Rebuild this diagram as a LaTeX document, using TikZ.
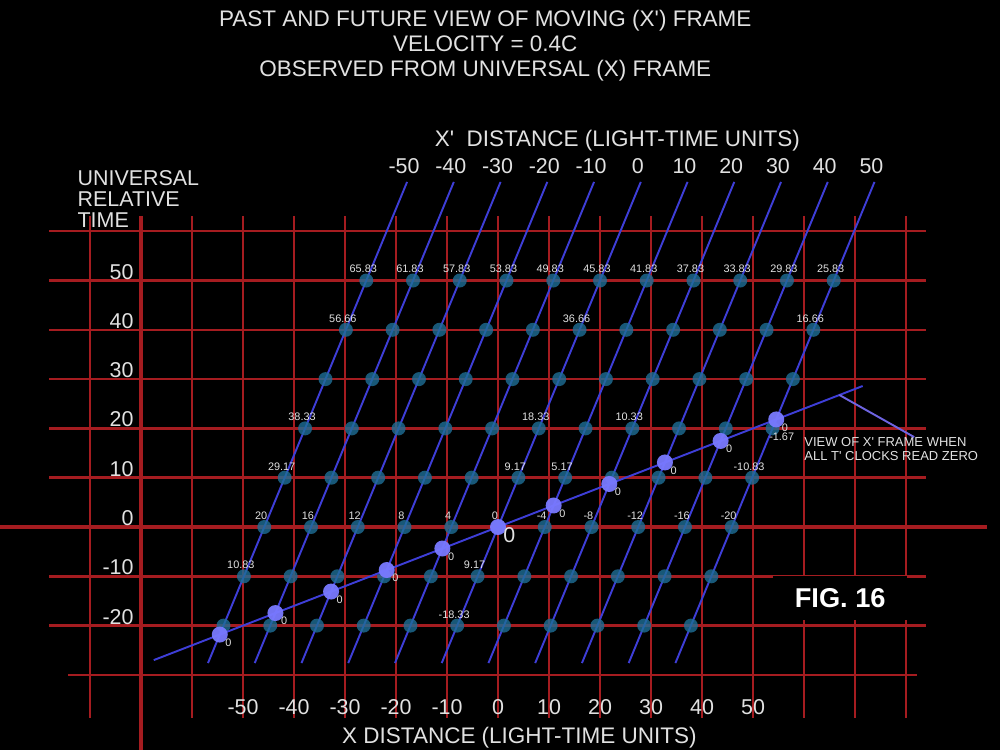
\documentclass[tikz,border=0pt]{standalone}
\usepackage{fontspec}
\setmainfont{Liberation Sans}
\usetikzlibrary{calc}

\definecolor{gridred}{RGB}{165,28,32}
\definecolor{lineblue}{RGB}{62,62,215}
\definecolor{dotteal}{RGB}{30,110,150}
\definecolor{bigdot}{RGB}{122,122,255}
\definecolor{txtgray}{RGB}{225,225,225}
\definecolor{ptrviolet}{RGB}{110,100,225}

% lorentz factor for v = 0.4c
\newcommand{\gam}{1.0911}
\newcommand{\sq}{\textquotesingle}

\begin{document}
\begin{tikzpicture}[x=0.102cm,y=0.0986cm,every node/.style={text=txtgray,inner sep=0pt}]

\tikzstyle{gridline}=[gridred,line width=1.4pt]
\tikzstyle{mainaxis}=[gridred,line width=2.4pt]
\tikzstyle{world}=[lineblue,line width=1.1pt]
\tikzstyle{clock}=[circle,fill=dotteal,fill opacity=0.8,minimum size=0.28cm]
\tikzstyle{nowdot}=[circle,fill=bigdot,fill opacity=0.95,minimum size=0.32cm]
\tikzstyle{reading}=[font=\fontsize{6.2}{7}\selectfont]
\tikzstyle{axisnum}=[font=\fontsize{12.2}{14}\selectfont]
\tikzstyle{heading}=[font=\fontsize{12.8}{14.4}\selectfont]

\fill[black] (-97.65,-45.23) rectangle (98.43,106.9);
\useasboundingbox (-97.65,-45.23) rectangle (98.43,106.9);

% universal grid
\foreach \v in {-80,-70,...,80}
    \draw[gridline] (\v,63.1) -- (\v,-38.7);
\foreach \v in {-20,-10,...,60}
    \draw[gridline] (-88,\v) -- (83.9,\v);
\draw[gridline] (-84.3,-30) -- (82.2,-30);
\draw[mainaxis] (-70,63.1) -- (-70,-45.3);
\draw[mainaxis] (-97.7,0) -- (95.9,0);

% world lines of the moving frame
\foreach \k in {0,...,10} {
    \pgfmathtruncatemacro{\xp}{10*\k-50}
    \coordinate (top\k) at ({28+\xp/\gam},70);
    \coordinate (bot\k) at ({-11.04+\xp/\gam},-27.6);
    \draw[world] (bot\k) -- (top\k);
    \node[axisnum] (xp\k) at ($(top\k)+(-0.6,3.2)$) {\xp};
}

% clocks
\foreach \k in {0,...,10} {
    \foreach \j in {0,...,7} {
        \pgfmathsetmacro{\tv}{10*\j-20}
        \pgfmathsetmacro{\xv}{0.4*\tv+(10*\k-50)/\gam}
        \node[clock] (p\k t\j) at (\xv,\tv) {};
    }
}

\foreach \k/\j/\lab in {0/7/65.83,1/7/61.83,2/7/57.83,3/7/53.83,4/7/49.83,5/7/45.83,
    6/7/41.83,7/7/37.83,8/7/33.83,9/7/29.83,10/7/25.83,
    0/6/56.66,5/6/36.66,10/6/16.66,
    0/4/38.33,5/4/18.33,7/4/10.33,
    0/3/29.17,5/3/9.17,6/3/5.17,10/3/-10.83,
    0/2/20,1/2/16,2/2/12,3/2/8,4/2/4,5/2/0,6/2/-4,7/2/-8,8/2/-12,9/2/-16,10/2/-20,
    0/1/10.83,5/1/9.17,
    5/0/-18.33}
    \node[reading] (r\k t\j) at ($(p\k t\j)+(-0.6,2.3)$) {\lab};
\node[reading] (r10t4) at ($(p10t4)+(1.8,-1.6)$) {-1.67};

% t' = 0
\coordinate (s0) at (-67.5,-27);
\coordinate (s1) at (71.5,28.6);
\draw[world] (s0) -- (s1);
\foreach \k in {0,...,10} {
    \pgfmathsetmacro{\bx}{(10*\k-50)*\gam}
    \node[nowdot] (z\k) at ({\bx},{0.4*(\bx)}) {};
}
\foreach \k in {0,1,2,3,4,6,7,8,9,10}
    \node[reading] (zl\k) at ($(z\k)+(1.7,-1.6)$) {0};
\node[axisnum] (zl5) at ($(z5)+(2.2,-1.7)$) {0};

% axis labels
\foreach \v in {-20,-10,...,50}
    \node[axisnum,anchor=east] (tl\v) at (-71.4,\v+1.8) {\v};
\foreach \v in {-50,-40,...,50}
    \node[axisnum] (bx\v) at (\v,-36.5) {\v};

\node[heading,align=center] (title) at (-2.5,97.6)
    {PAST AND FUTURE VIEW OF MOVING (X\sq) FRAME\\VELOCITY = 0.4C\\OBSERVED FROM UNIVERSAL (X) FRAME};
\node[axisnum,align=left,anchor=west,font=\fontsize{12.2}{11.9}\selectfont] (tname) at (-82.5,66.5)
    {UNIVERSAL\\RELATIVE\\TIME};
\node[heading] (xname) at (4.2,-42.8) {X DISTANCE (LIGHT-TIME UNITS)};
\node[heading] (xpname) at (23.4,78.3) {X\sq\ \ DISTANCE (LIGHT-TIME UNITS)};

% note
\node[align=left,anchor=west,font=\fontsize{7.4}{8}\selectfont] (note) at (60,15.8)
    {VIEW OF X\sq{} FRAME WHEN\\ALL T\sq{} CLOCKS READ ZERO};
\coordinate (ptr) at (66.9,26.8);
\draw[ptrviolet,line width=1.1pt] (ptr) -- ([xshift=0.46cm]note.north);

\node[fill=black,text=white,minimum width=2.68cm,minimum height=0.88cm,
    font=\bfseries\fontsize{15.5}{16}\selectfont] (fig) at (67.1,-14.4) {FIG. 16};
\end{tikzpicture}
\end{document}
